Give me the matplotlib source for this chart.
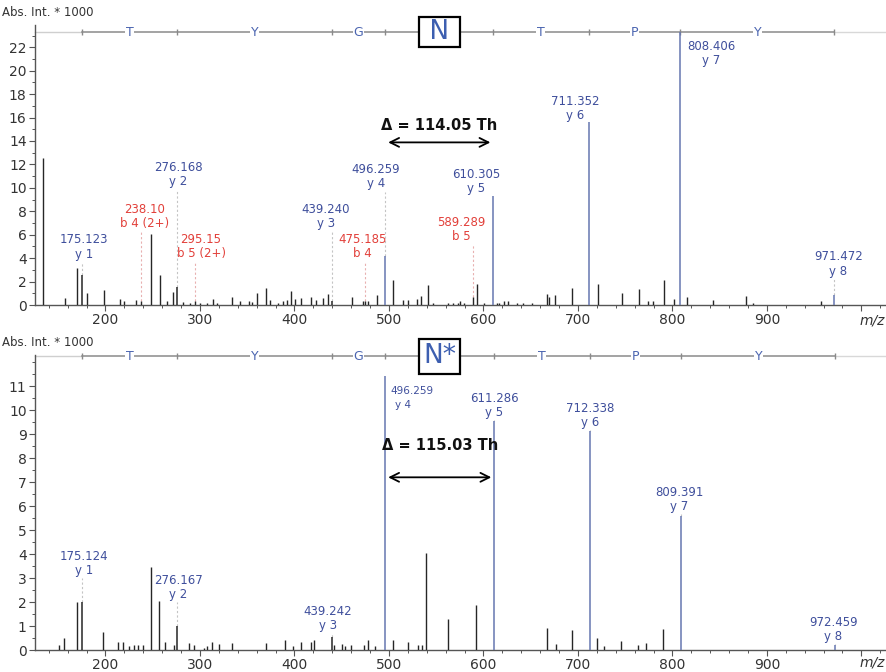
import matplotlib.pyplot as plt
from matplotlib.ticker import MultipleLocator, FixedLocator
import numpy as np

# ---------------- data: top spectrum (N) ----------------
mz_top = [134.2, 157.1, 169.5, 180.8, 198.4, 215.3, 219.9, 232.3, 248.1, 257.7,
          264.8, 271.7, 282.3, 289.4, 300.0, 307.1, 313.4, 317.7, 334.2, 342.3,
          351.9, 354.7, 360.6, 369.5, 374.1, 382.9, 388.1, 392.4, 396.3, 400.5,
          406.6, 417.5, 422.4, 429.8, 435.1, 460.5, 472.8, 478.1, 487.6, 504.6,
          515.1, 519.8, 529.3, 533.5, 540.9, 546.9, 562.8, 568.1, 573.3, 575.1,
          579.4, 592.8, 600.8, 614.0, 616.7, 621.7, 625.6, 635.1, 642.1, 651.0,
          666.9, 669.3, 676.0, 694.0, 720.8, 746.2, 764.6, 773.8, 779.0, 791.0,
          801.6, 815.3, 843.2, 877.5, 885.5, 957.1]
int_top = [12.55, 0.63, 3.2, 1.05, 1.3, 0.5, 0.3, 0.45, 6.05, 2.6,
           0.3, 1.15, 0.25, 0.2, 0.2, 0.2, 0.5, 0.2, 0.7, 0.3,
           0.35, 0.25, 1.0, 1.43, 0.45, 0.2, 0.3, 0.4, 1.2, 0.5,
           0.6, 0.7, 0.4, 0.6, 0.9, 0.7, 0.3, 0.3, 0.85, 2.15,
           0.4, 0.4, 0.5, 0.75, 1.7, 0.2, 0.2, 0.15, 0.2, 0.35,
           0.2, 1.77, 0.2, 0.2, 0.2, 0.3, 0.35, 0.15, 0.2, 0.2,
           0.95, 0.7, 0.85, 1.43, 1.77, 1.0, 1.37, 0.3, 0.3, 2.1,
           0.5, 0.7, 0.4, 0.75, 0.2, 0.35]

yion_top_mz = [175.123, 276.168, 439.240, 496.259, 610.305, 711.352, 808.406, 971.472]
yion_top_int = [2.6, 1.57, 0.35, 4.2, 9.28, 15.6, 23.3, 0.85]

bion_top_mz = [238.10, 295.15, 475.185, 589.289]
bion_top_txt = ['238.10', '295.15', '475.185', '589.289']
bion_top_int = [0.3, 0.35, 0.35, 0.7]
bion_names = ['b 4 (2+)', 'b 5 (2+)', 'b 4', 'b 5']

# ---------------- data: bottom spectrum (N*) ----------------
mz_bot = [151.1, 156.4, 169.5, 197.0, 213.5, 218.8, 224.9, 230.5, 234.7, 240.0,
          247.8, 256.9, 263.0, 272.5, 288.7, 294.0, 304.2, 307.1, 313.0, 320.4,
          334.2, 369.5, 389.9, 398.7, 406.9, 417.5, 420.6, 441.5, 450.8, 453.4,
          459.5, 473.5, 477.5, 485.2, 504.6, 520.4, 531.0, 534.6, 538.8, 562.8,
          592.1, 666.9, 676.4, 693.3, 720.1, 727.5, 745.5, 763.2, 771.6, 790.3]
int_bot = [0.2, 0.52, 2.02, 0.75, 0.32, 0.32, 0.15, 0.2, 0.2, 0.2,
           3.46, 2.06, 0.35, 0.2, 0.3, 0.2, 0.1, 0.15, 0.35, 0.25,
           0.3, 0.3, 0.42, 0.15, 0.35, 0.35, 0.42, 0.2, 0.25, 0.15,
           0.2, 0.2, 0.42, 0.15, 0.4, 0.35, 0.2, 0.2, 4.05, 1.28,
           1.88, 0.9, 0.25, 0.85, 0.5, 0.15, 0.36, 0.2, 0.3, 0.87]

yion_bot_mz = [175.124, 276.167, 439.242, 496.259, 611.286, 712.338, 809.391, 972.459]
yion_bot_int = [2.0, 1.02, 0.56, 11.43, 9.55, 9.13, 5.58, 0.2]

yion_names = ['y 1', 'y 2', 'y 3', 'y 4', 'y 5', 'y 6', 'y 7', 'y 8']
sequence = ['T', 'Y', 'G', 'N', 'T', 'P', 'Y']
delta_top = 'Δ = 114.05 Th'
delta_bot = 'Δ = 115.03 Th'

# label placement (x offset in m/z, y of first text line)
lab_top_dx = [2, 1, -6, -10, -18, -14, 33, 4]
lab_top_y = [5.57, 11.74, 8.14, 11.57, 11.14, 17.4, 22.1, 4.11]
blab_top_dx = [3, 6, -3, -13]
blab_top_y = [8.14, 5.57, 5.57, 7.03]
lab_bot_dx = [2, 1, -4, 28, 0, 1, -2, -2]
lab_bot_dx2 = [2, 1, -4, 19, 0, 1, -2, -2]
lab_bot_y = [3.89, 2.89, 1.59, 10.8, 10.5, 10.08, 6.57, 1.13]

BLUE_TXT = '#3f4f9c'
BLUE_LINE = '#6677b0'
RED_TXT = '#e2403a'
PEAK = '#262626'
SEQ = '#8a8a8a'

XMIN, XMAX = 125.4, 1025.0

fig = plt.figure(figsize=(8.87, 6.72), dpi=100)
ax1 = fig.add_axes([35 / 887, 1 - 305 / 672, 850 / 887, 280 / 672])
ax2 = fig.add_axes([35 / 887, 1 - 650 / 672, 850 / 887, 295 / 672])


def style_axis(ax, ytop, yticks, yminor):
    ax.set_xlim(XMIN, XMAX)
    ax.set_ylim(0, ytop)
    for s in ['top', 'right']:
        ax.spines[s].set_visible(False)
    for s in ['left', 'bottom']:
        ax.spines[s].set_color('#555555')
        ax.spines[s].set_linewidth(1.0)
    ax.xaxis.set_major_locator(FixedLocator([200, 300, 400, 500, 600, 700, 800, 900, 1000]))
    ax.set_xticklabels(['200', '300', '400', '500', '600', '700', '800', '900', ''])
    ax.xaxis.set_minor_locator(MultipleLocator(20))
    ax.yaxis.set_major_locator(FixedLocator(yticks))
    ax.yaxis.set_minor_locator(MultipleLocator(yminor))
    ax.tick_params(axis='both', which='major', direction='out', length=4, width=0.8,
                   colors='#555555', labelcolor='#333333', labelsize=10, pad=2)
    ax.tick_params(axis='both', which='minor', direction='out', length=2.5, width=0.7,
                   colors='#555555')


def draw_sequence(ax, ions, yseq, boxed, pad):
    ax.plot([XMIN, ions[0]], [yseq, yseq], color='#cfcfcf', lw=1, clip_on=False, zorder=2)
    ax.plot([ions[-1], XMAX], [yseq, yseq], color='#d8d8d8', lw=1, clip_on=False, zorder=2)
    ax.plot([ions[0], ions[-1]], [yseq, yseq], color=SEQ, lw=1.1, clip_on=False, zorder=2)
    ax.plot(ions, [yseq] * len(ions), ls='none', marker='|', ms=4, color=SEQ,
            clip_on=False, zorder=2)
    for i, aa in enumerate(sequence):
        xm = (ions[i] + ions[i + 1]) / 2
        if i == 3:
            ax.text(xm, yseq, boxed, ha='center', va='center', fontsize=19, color='#3d5fb0',
                    clip_on=False, zorder=5,
                    bbox=dict(boxstyle='square,pad=%s' % pad, fc='white', ec='black', lw=1.6))
        else:
            ax.text(xm, yseq, aa, ha='center', va='center', fontsize=9, color='#4a64b0',
                    clip_on=False, zorder=4,
                    bbox=dict(boxstyle='square,pad=0.05', fc='white', ec='none'))


def draw_delta(ax, x0, x1, y_arrow, y_text, txt):
    ax.annotate('', xy=(x1, y_arrow), xytext=(x0, y_arrow),
                arrowprops=dict(arrowstyle='<->', color='black', lw=1.3,
                                mutation_scale=16))
    ax.text((x0 + x1) / 2, y_text, txt, ha='center', va='center', fontsize=10.5,
            fontweight='bold', color='#111111')


# ---------------- top panel ----------------
style_axis(ax1, 23.9, list(range(0, 23, 2)), 1)
ax1.vlines(mz_top, 0, int_top, color=PEAK, lw=1.0, zorder=3)
for i, (m, h) in enumerate(zip(yion_top_mz, yion_top_int)):
    col = BLUE_LINE if i >= 3 else PEAK
    ax1.vlines(m, 0, h, color=col, lw=1.1, zorder=3)
    ly = lab_top_y[i]
    ax1.text(m + lab_top_dx[i], ly, f'{m:.3f}', ha='center', va='center', fontsize=8.5,
             color=BLUE_TXT)
    ax1.text(m + lab_top_dx[i], ly - 1.22, yion_names[i], ha='center', va='center',
             fontsize=8.5, color=BLUE_TXT)
    if ly - 1.9 > h:
        ax1.vlines(m, h, ly - 1.9, color='#c4c4c4', lw=0.8, ls=(0, (2, 2)), zorder=1)
for i, (m, h) in enumerate(zip(bion_top_mz, bion_top_int)):
    ax1.vlines(m, 0, h, color=PEAK, lw=1.0, zorder=3)
    ly = blab_top_y[i]
    ax1.text(m + blab_top_dx[i], ly, bion_top_txt[i], ha='center', va='center',
             fontsize=8.5, color=RED_TXT)
    ax1.text(m + blab_top_dx[i], ly - 1.15, bion_names[i], ha='center', va='center',
             fontsize=8.5, color=RED_TXT)
    ax1.vlines(m, h, ly - 1.85, color='#e8b0b0', lw=0.8, ls=(0, (2, 2)), zorder=1)
draw_sequence(ax1, yion_top_mz, 23.3, ' N ', 0.08)
draw_delta(ax1, yion_top_mz[3], yion_top_mz[4], 13.88, 15.34, delta_top)

# ---------------- bottom panel ----------------
style_axis(ax2, 12.3, list(range(0, 12)), 0.5)
ax2.vlines(mz_bot, 0, int_bot, color=PEAK, lw=1.0, zorder=3)
for i, (m, h) in enumerate(zip(yion_bot_mz, yion_bot_int)):
    col = BLUE_LINE if i >= 3 else PEAK
    ax2.vlines(m, 0, h, color=col, lw=1.1, zorder=3)
    ly = lab_bot_y[i]
    fs = 7.5 if i == 3 else 8.5
    ax2.text(m + lab_bot_dx[i], ly, f'{m:.3f}', ha='center', va='center', fontsize=fs,
             color=BLUE_TXT)
    ax2.text(m + lab_bot_dx2[i], ly - 0.58, yion_names[i],
             ha='center', va='center', fontsize=fs, color=BLUE_TXT)
    if ly - 0.9 > h:
        ax2.vlines(m, h, ly - 0.9, color='#c4c4c4', lw=0.8, ls=(0, (2, 2)), zorder=1)
draw_sequence(ax2, yion_bot_mz, 12.24, 'N*', 0.16)
draw_delta(ax2, yion_bot_mz[3], yion_bot_mz[4], 7.2, 8.54, delta_bot)

# ---------------- outer labels ----------------
fig.text(2 / 887, 1 - 12 / 672, 'Abs. Int. * 1000', fontsize=8.5, color='#333333',
         ha='left', va='center')
fig.text(2 / 887, 1 - 343 / 672, 'Abs. Int. * 1000', fontsize=8.5, color='#333333',
         ha='left', va='center')
fig.text(885 / 887, 1 - 320 / 672, 'm/z', fontsize=10, style='italic', color='#333333',
         ha='right', va='center')
fig.text(885 / 887, 1 - 662 / 672, 'm/z', fontsize=10, style='italic', color='#333333',
         ha='right', va='center')

fig.savefig('out.png', dpi=100)
